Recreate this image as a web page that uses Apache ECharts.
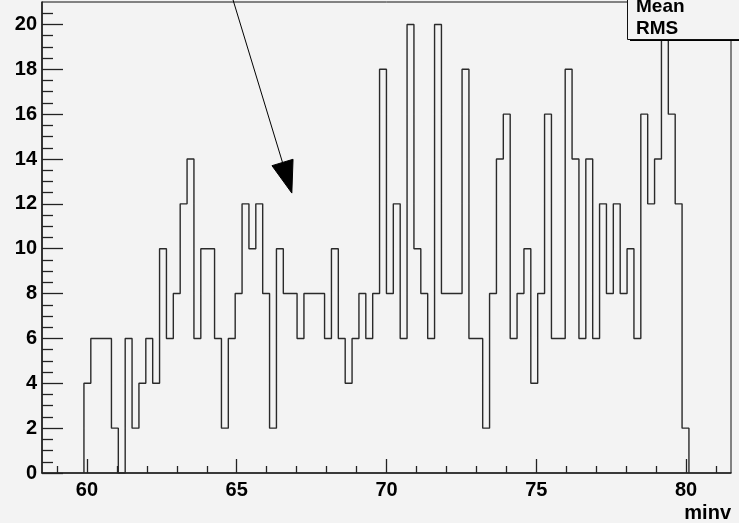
<!DOCTYPE html>
<html>
<head>
<meta charset="utf-8">
<script src="https://cdn.jsdelivr.net/npm/echarts@6/dist/echarts.min.js"></script>
<style>
  html, body { margin: 0; padding: 0; background: #f3f3f3; }
  #chart { width: 739px; height: 523px; }
</style>
</head>
<body>
<div id="chart"></div>
<script>
// histogram of minv, fixed-width bins
var binStart = 59.9;
var binWidth = 0.2295;
var counts = [
  4, 6, 6, 6, 2, 0, 6, 2, 4, 6,
  4, 10, 6, 8, 12, 14, 6, 10, 10, 6,
  2, 6, 8, 12, 10, 12, 8, 2, 10, 8,
  8, 6, 8, 8, 8, 6, 10, 6, 4, 6,
  8, 6, 8, 18, 8, 12, 6, 20, 10, 8,
  6, 20, 8, 8, 8, 18, 6, 6, 2, 8,
  14, 16, 6, 8, 10, 4, 8, 16, 6, 6,
  18, 14, 6, 14, 6, 12, 8, 12, 8, 10,
  6, 16, 12, 14, 20, 16, 12, 2
];
var xMin = 58.5, xMax = 81.5;
var yMin = 0, yMax = 21;
var xMajorTicks = [60, 65, 70, 75, 80];
var yMajorTicks = [0, 2, 4, 6, 8, 10, 12, 14, 16, 18, 20];
var statsLabels = ['Mean', 'RMS'];
var axisTitle = 'minv';
// arrow annotation, in data coordinates
var arrowFrom = [64.83, 21.3];
var arrowTo = [66.84, 12.48];

var xMinorTicks = [];
for (var v = 59; v <= 81; v++) {
  if (xMajorTicks.indexOf(v) < 0) xMinorTicks.push(v);
}
var yMinorTicks = [];
for (var w = 0.5; w < yMax; w += 0.5) {
  if (yMajorTicks.indexOf(w) < 0) yMinorTicks.push(w);
}

// step outline: up from baseline, across each bin, back down at the end
var outline = [[binStart, 0]];
for (var i = 0; i < counts.length; i++) {
  outline.push([binStart + i * binWidth, counts[i]]);
}
outline.push([binStart + counts.length * binWidth, 0]);

var font = 'Liberation Sans, Arial, sans-serif';
var labelStyle = { color: '#000', fontFamily: font, fontWeight: 'bold', fontSize: 20 };

var chart = echarts.init(document.getElementById('chart'));
chart.setOption({
  animation: false,
  backgroundColor: '#f3f3f3',
  grid: {
    left: 42, right: 8, top: 2, bottom: 48,
    show: true, borderColor: '#111', borderWidth: 1, backgroundColor: '#f3f3f3'
  },
  xAxis: [
    {
      type: 'value', min: xMin, max: xMax, position: 'bottom',
      axisLine: { show: true, lineStyle: { color: '#222', width: 1.6 } },
      axisTick: { show: true, inside: true, length: 14, customValues: xMajorTicks, lineStyle: { color: '#222', width: 1.3 } },
      axisLabel: Object.assign({ customValues: xMajorTicks, margin: 7 }, labelStyle),
      splitLine: { show: false },
      name: axisTitle, nameLocation: 'end', nameGap: 0,
      nameTextStyle: Object.assign({ align: 'right', verticalAlign: 'top', padding: [30, 0, 0, 0] }, labelStyle)
    },
    {
      type: 'value', min: xMin, max: xMax, position: 'bottom',
      axisLine: { show: false },
      axisTick: { show: true, inside: true, length: 7, customValues: xMinorTicks, lineStyle: { color: '#222', width: 1.3 } },
      axisLabel: { show: false },
      splitLine: { show: false }
    }
  ],
  yAxis: [
    {
      type: 'value', min: yMin, max: yMax, position: 'left',
      axisLine: { show: true, lineStyle: { color: '#222', width: 1.6 } },
      axisTick: { show: true, inside: true, length: 21, customValues: yMajorTicks, lineStyle: { color: '#222', width: 1.3 } },
      axisLabel: Object.assign({ customValues: yMajorTicks, margin: 5 }, labelStyle),
      splitLine: { show: false }
    },
    {
      type: 'value', min: yMin, max: yMax, position: 'left',
      axisLine: { show: false },
      axisTick: { show: true, inside: true, length: 11, customValues: yMinorTicks, lineStyle: { color: '#222', width: 1.3 } },
      axisLabel: { show: false },
      splitLine: { show: false }
    }
  ],
  series: [
    {
      type: 'line',
      step: 'end',
      xAxisIndex: 0,
      yAxisIndex: 0,
      data: outline,
      symbol: 'none',
      clip: false,
      lineStyle: { color: '#2a2a2a', width: 1.4 }
    }
  ]
});

// arrow and stats box
var p0 = chart.convertToPixel({ seriesIndex: 0 }, arrowFrom);
var p1 = chart.convertToPixel({ seriesIndex: 0 }, arrowTo);
var dx = p1[0] - p0[0], dy = p1[1] - p0[1];
var len = Math.sqrt(dx * dx + dy * dy);
var ux = dx / len, uy = dy / len;
var headLen = 32, headHalf = 11;
var bx = p1[0] - ux * headLen, by = p1[1] - uy * headLen;

chart.setOption({
  graphic: [
    {
      type: 'line', z: 50,
      shape: { x1: p0[0], y1: p0[1], x2: bx, y2: by },
      style: { stroke: '#000', lineWidth: 1 }
    },
    {
      type: 'polygon', z: 50,
      shape: { points: [p1, [bx - uy * headHalf, by + ux * headHalf], [bx + uy * headHalf, by - ux * headHalf]] },
      style: { fill: '#000', stroke: '#000', lineWidth: 1 }
    },
    {
      type: 'rect', z: 99,
      shape: { x: 630, y: -5, width: 130, height: 46 },
      style: { fill: '#000' }
    },
    {
      type: 'rect', z: 100,
      shape: { x: 627.5, y: -5, width: 130, height: 44.5 },
      style: { fill: '#f3f3f3', stroke: '#111', lineWidth: 1 }
    },
    {
      type: 'text', z: 101, left: 636, top: -3,
      style: { text: statsLabels[0], fill: '#000', font: 'bold 19px ' + font }
    },
    {
      type: 'text', z: 101, left: 636, top: 19,
      style: { text: statsLabels[1], fill: '#000', font: 'bold 19px ' + font }
    }
  ]
});
</script>
</body>
</html>
